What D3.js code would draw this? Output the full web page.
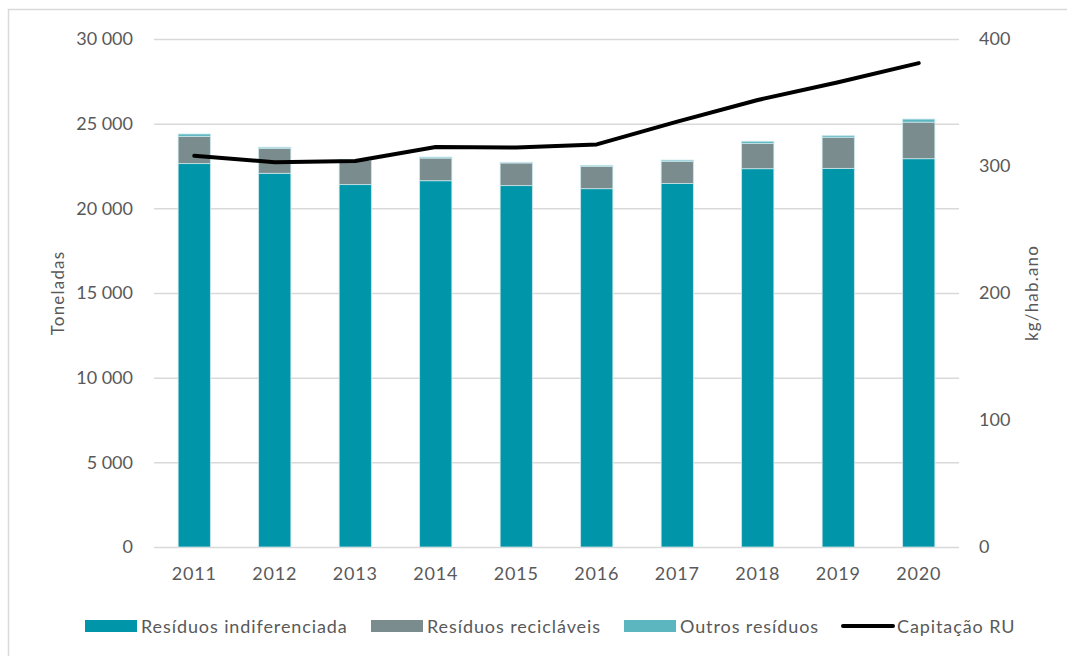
<!DOCTYPE html>
<html><head><meta charset="utf-8">
<script src="https://cdn.jsdelivr.net/npm/d3@7"></script>
<style>body{margin:0;background:#fff}svg{display:block}text{font-family:Lato,"Open Sans",sans-serif;fill:#595959}</style>
</head><body><svg id="c" width="1067" height="656"></svg>
<script>
const years = ["2011","2012","2013","2014","2015","2016","2017","2018","2019","2020"];
const indiferenciada = [22640,22070,21400,21630,21340,21160,21460,22340,22360,22930];
const reciclaveis = [1610,1480,1450,1340,1340,1320,1320,1500,1840,2160];
const outros = [140,60,40,60,40,60,70,120,90,180];
const capitacao = [308,303,304,315,314.5,317,335,352,366,381];
const leftTicks = [0,5000,10000,15000,20000,25000,30000];
const rightTicks = [0,100,200,300,400];
const seriesNames = ["Resíduos indiferenciada","Resíduos recicláveis","Outros resíduos","Capitação RU"];
const colors = ["#0095A8","#7A8C8E","#5BB6C0","#000000"];

const svg = d3.select("#c");
const L = 154, R = 959, T = 39, B = 547;
svg.append("rect").attr("x",8.5).attr("y",9.5).attr("width",1070).attr("height",700).attr("fill","none").attr("stroke","#d9d9d9").attr("stroke-width",1.5);

const x = d3.scaleBand().domain(years).range([L,R]).paddingInner(0.6).paddingOuter(0.3);
const yL = d3.scaleLinear().domain([0,30000]).range([B,T]);
const yR = d3.scaleLinear().domain([0,400]).range([B,T]);

const fmt = d => d3.format(",")(d).replace(/,/g," ");

// grid
svg.append("g").selectAll("line").data(leftTicks).join("line")
  .attr("x1",L).attr("x2",R).attr("y1",d=>yL(d)+0.5).attr("y2",d=>yL(d)+0.5)
  .attr("stroke","#d9d9d9").attr("stroke-width",1.5);

// left axis
const gl = svg.append("g").attr("transform",`translate(${L},0)`)
  .call(d3.axisLeft(yL).tickValues(leftTicks).tickFormat(fmt).tickSize(0).tickPadding(21));
gl.select(".domain").remove();
gl.selectAll("text").attr("font-size",18).style("font-family","Lato").attr("fill","#595959");

const gr = svg.append("g").attr("transform",`translate(${R},0)`)
  .call(d3.axisRight(yR).tickValues(rightTicks).tickSize(0).tickPadding(20));
gr.select(".domain").remove();
gr.selectAll("text").attr("font-size",18).style("font-family","Lato").attr("fill","#595959");

const gx = svg.append("g").attr("transform",`translate(0,${B})`)
  .call(d3.axisBottom(x).tickSize(0).tickPadding(20));
gx.select(".domain").remove();
gx.selectAll("text").attr("font-size",18).style("font-family","Lato").attr("fill","#595959").attr("letter-spacing",0.8);

// stacked bars
const rows = years.map((y,i)=>({year:y,a:indiferenciada[i],b:reciclaveis[i],c:outros[i]}));
const stack = d3.stack().keys(["a","b","c"])(rows);
svg.append("g").selectAll("g").data(stack).join("g").attr("fill",(d,i)=>colors[i])
  .selectAll("rect").data(d=>d).join("rect")
  .attr("x",d=>x(d.data.year)).attr("width",x.bandwidth())
  .attr("y",d=>yL(d[1])).attr("height",d=>yL(d[0])-yL(d[1]))
  .attr("stroke","#c8e6ea").attr("stroke-width",0.8);

// line
const line = d3.line().x((d,i)=>x(years[i])+x.bandwidth()/2).y(d=>yR(d));
svg.append("path").datum(capitacao).attr("d",line).attr("fill","none")
  .attr("stroke","#000").attr("stroke-width",4).attr("stroke-linecap","round").attr("stroke-linejoin","round");

// axis titles
svg.append("text").attr("transform","translate(64,293) rotate(-90)").attr("text-anchor","middle")
  .attr("font-size",17).attr("letter-spacing",1.2).text("Toneladas");
svg.append("text").attr("transform","translate(1038,293) rotate(-90)").attr("text-anchor","middle")
  .attr("font-size",17).attr("letter-spacing",1.2).text("kg/hab.ano");

// legend
const legX = [85,371,624,841];
const lg = svg.append("g");
seriesNames.forEach((n,i)=>{
  const g = lg.append("g").attr("transform",`translate(${legX[i]},0)`);
  if(i<3) g.append("rect").attr("x",0).attr("y",620).attr("width",52).attr("height",12).attr("fill",colors[i]);
  else g.append("line").attr("x1",2).attr("x2",52).attr("y1",626).attr("y2",626).attr("stroke","#000").attr("stroke-width",4).attr("stroke-linecap","round");
  g.append("text").attr("x",56).attr("y",633).attr("font-size",18).attr("letter-spacing",0.9).text(n);
});
</script></body></html>
